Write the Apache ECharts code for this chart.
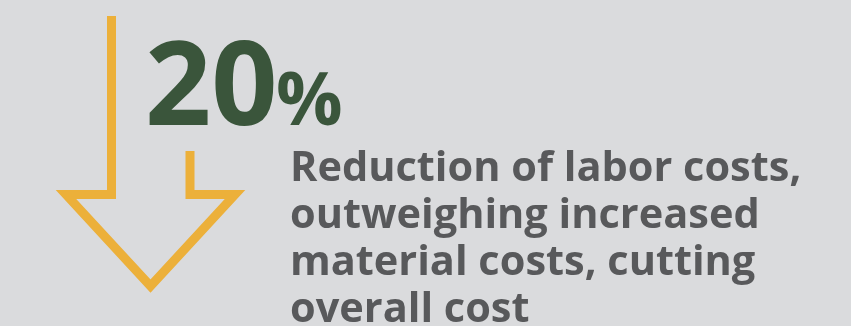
<!DOCTYPE html>
<html>
<head>
<meta charset="utf-8">
<script src="https://cdn.jsdelivr.net/npm/echarts@6/dist/echarts.min.js"></script>
<style>
html,body{margin:0;padding:0;background:#dadbdd;}
#c{width:851px;height:326px;}
</style>
</head>
<body>
<div id="c"></div>
<script>
// Data
const statValue = [20];
const statUnit = ['%'];
const captionLines = [
  'Reduction of labor costs,',
  'outweighing increased',
  'material costs, cutting',
  'overall cost'
];

const chart = echarts.init(document.getElementById('c'), null, {renderer: 'canvas'});
const FONT = '"Open Sans", "Noto Sans", sans-serif';

chart.setOption({
  backgroundColor: '#dadbdd',
  animation: false,
  graphic: [
    {
      type: 'polyline',
      shape: {
        points: [[111.5, 16], [111.5, 194.5], [66, 194.5], [150.5, 286], [235, 194.5], [190, 194.5], [190, 151]]
      },
      style: {stroke: '#ecb03a', lineWidth: 9, fill: null, lineJoin: 'miter', lineCap: 'butt', miterLimit: 10}
    },
    {
      type: 'text',
      left: 145, top: 34,
      style: {text: String(statValue[0]), font: 'bold 116px ' + FONT, fill: '#3a553b'}
    },
    {
      type: 'text',
      left: 276, top: 67,
      style: {text: statUnit[0], font: 'bold 74px ' + FONT, fill: '#3a553b'}
    },
    {
      type: 'text',
      left: 290, top: 146,
      style: {text: captionLines.join('\n'), font: 'bold 41.5px ' + FONT, fill: '#58595b', lineHeight: 47}
    }
  ]
});
</script>
</body>
</html>
